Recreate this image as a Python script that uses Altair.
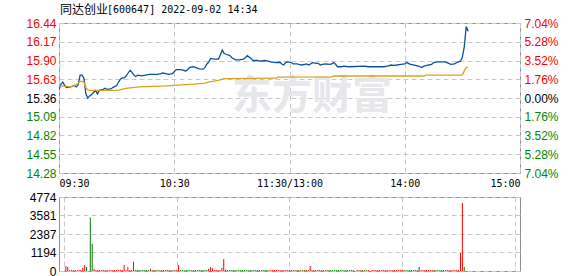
import altair as alt
import pandas as pd

# ---------------- data ----------------
title_name = "同达创业"
title_rest = "[600647] 2022-09-02 14:34"
watermark = "东方财富"

price_ticks = [14.28, 14.55, 14.82, 15.09, 15.36, 15.63, 15.90, 16.17, 16.44]
pct_labels = ["7.04%", "5.28%", "3.52%", "1.76%", "0.00%", "1.76%", "3.52%", "5.28%", "7.04%"]
vol_ticks = [0, 1194, 2387, 3581, 4774]
time_ticks = [0, 60, 120, 180, 240]
time_labels = ["09:30", "10:30", "11:30/13:00", "14:00", "15:00"]

price_min = [0, 1, 2, 3, 4, 6, 8, 9, 10, 11, 12, 13, 14, 15, 16, 17, 18, 19, 20, 21,
             23, 24, 25, 27, 28, 30, 31, 32, 33, 34, 35, 36, 37, 38, 39, 40, 41, 43, 45, 47,
             51, 53, 54, 55, 57, 59, 61, 63, 64, 66, 67, 68, 70, 71, 73, 75, 76, 77, 78, 79,
             81, 83, 84, 85, 86, 87, 89, 90, 92, 94, 96, 97, 98, 100, 101, 103, 105, 107, 109, 110,
             113, 115, 116, 117, 118, 119, 121, 122, 124, 126, 128, 129, 130, 132, 134, 135, 136, 137, 139, 141,
             142, 143, 144, 145, 147, 148, 151, 159, 161, 165, 169, 171, 173, 174, 176, 178, 180, 181, 183, 185,
             187, 188, 189, 190, 192, 194, 195, 197, 201, 202, 204, 206, 207, 209, 210, 211, 212, 213]
price_val = [15.48, 15.56, 15.59, 15.54, 15.51, 15.52, 15.54, 15.52, 15.55, 15.69, 15.69, 15.64, 15.42, 15.36, 15.39, 15.41, 15.44, 15.47, 15.42, 15.47,
             15.485, 15.50, 15.485, 15.49, 15.51, 15.54, 15.59, 15.63, 15.65, 15.65, 15.68, 15.72, 15.76, 15.73, 15.69, 15.67, 15.69, 15.68, 15.69, 15.70,
             15.70, 15.71, 15.72, 15.715, 15.70, 15.71, 15.77, 15.77, 15.765, 15.75, 15.77, 15.80, 15.81, 15.80, 15.78, 15.775, 15.80, 15.85, 15.88, 15.93,
             15.92, 15.92, 15.98, 16.05, 16.00, 15.99, 15.97, 15.94, 15.91, 15.91, 15.92, 15.94, 15.97, 15.93, 15.90, 15.90, 15.89, 15.90, 15.89, 15.88,
             15.87, 15.875, 15.85, 15.835, 15.87, 15.88, 15.87, 15.85, 15.85, 15.835, 15.845, 15.85, 15.835, 15.87, 15.86, 15.86, 15.835, 15.845, 15.85, 15.845,
             15.85, 15.87, 15.845, 15.81, 15.81, 15.82, 15.81, 15.82, 15.81, 15.81, 15.81, 15.82, 15.835, 15.83, 15.835, 15.845, 15.85, 15.87, 15.845, 15.835,
             15.82, 15.81, 15.80, 15.82, 15.835, 15.845, 15.87, 15.88, 15.88, 15.87, 15.845, 15.85, 15.87, 15.89, 15.95, 16.10, 16.39, 16.32]

avg_min = [0, 1, 3, 6, 8, 10, 11, 12, 13, 14, 15, 16, 31, 32, 35, 37, 42, 56, 64, 70,
           76, 79, 83, 86, 113, 114, 142, 143, 190, 191, 210, 211, 212, 213]
avg_val = [15.53, 15.54, 15.53, 15.52, 15.54, 15.57, 15.60, 15.60, 15.59, 15.51, 15.475, 15.47, 15.47, 15.48, 15.50, 15.505, 15.52, 15.535, 15.55, 15.56,
           15.575, 15.595, 15.615, 15.64, 15.645, 15.66, 15.665, 15.677, 15.677, 15.69, 15.69, 15.75, 15.80, 15.80]

vol_val = [0, 320, 258, 65, 65, 65, 65, 65, 65, 65,
           213, 387, 258, 0, 3450, 1763, 150, 65, 65, 65,
           65, 65, 65, 65, 65, 65, 65, 65, 65, 65,
           65, 65, 387, 65, 258, 65, 65, 602, 65, 65,
           65, 65, 65, 65, 65, 65, 150, 65, 65, 65,
           65, 65, 65, 65, 65, 65, 65, 65, 65, 65,
           65, 387, 65, 65, 65, 65, 65, 65, 65, 65,
           65, 65, 65, 65, 65, 65, 65, 150, 258, 170,
           65, 65, 65, 65, 213, 774, 100, 65, 65, 65,
           65, 65, 65, 65, 65, 65, 65, 65, 65, 65,
           65, 65, 65, 65, 65, 65, 65, 65, 65, 65,
           65, 65, 65, 65, 65, 65, 65, 65, 65, 65,
           65, 65, 65, 65, 65, 65, 65, 65, 65, 65,
           65, 322, 65, 65, 65, 65, 65, 65, 65, 65,
           65, 65, 65, 65, 65, 65, 65, 65, 65, 65,
           65, 65, 65, 65, 65, 0, 65, 65, 65, 65,
           65, 65, 65, 0, 65, 65, 65, 65, 65, 65,
           65, 65, 65, 65, 65, 65, 65, 65, 65, 65,
           65, 65, 65, 65, 65, 65, 65, 65, 65, 258,
           65, 65, 65, 65, 65, 65, 65, 65, 65, 65,
           65, 65, 65, 65, 65, 65, 65, 65, 65, 65,
           65, 1161, 4387, 258]
vol_dir = ("rrrrrrrrrr" "rrggggrrrr" "rrrrrrrrrr" "rrrrrrrrgg" "ggggggrgrg"
           "grgrggrgrg" "rrgggggggg" "gggggggrrr" "rrrrrrgggg" "gggggggggg"
           "gggggggggg" "rrrrrrrrrr" "rgrgrgrgrg" "rrrgrrgrgr" "rggggggggg"
           "gggrggrgrg" "rgrrrrrrrr" "rrrrrrrrrr" "rggggggggg" "rrrrrrrggg"
           "gggrrrrrrr" "rrrg")

# ---------------- frames ----------------
price_df = pd.DataFrame({"minute": price_min, "price": price_val})
avg_df = pd.DataFrame({"minute": avg_min, "avg": avg_val})
vol_df = pd.DataFrame({"minute": list(range(len(vol_val))), "vol": vol_val, "dir": list(vol_dir)})

NUM_FONT = "Liberation Sans"
MONO_FONT = "DejaVu Sans Mono"
RED, GREEN, BLACK = "#ff0000", "#008800", "#000000"
GRID = "#c8c8c8"


def ternary(values, labels):
    expr = "''"
    for v, l in reversed(list(zip(values, labels))):
        expr = f"abs(datum.value - {v}) < 0.001 ? '{l}' : {expr}"
    return expr


label_color = {
    "condition": [
        {"test": "datum.value > 15.37", "value": RED},
        {"test": "datum.value < 15.35", "value": GREEN},
    ],
    "value": BLACK,
}

x_price = alt.X(
    "minute:Q",
    scale=alt.Scale(domain=[0, 240], nice=False, zero=False),
    axis=alt.Axis(values=time_ticks, labelExpr=ternary(time_ticks, time_labels), labelFlush=True,
                  labelOverlap=False, grid=True, gridDash=[5, 3], gridColor=GRID, ticks=False,
                  domain=False, labelPadding=5, labelFont=MONO_FONT, labelFontSize=10,
                  labelColor=BLACK, title=None),
)
x_vol = alt.X(
    "minute:Q",
    scale=alt.Scale(domain=[0, 240], nice=False, zero=False),
    axis=alt.Axis(values=time_ticks, labels=False, grid=True, gridDash=[5, 3], gridColor=GRID,
                  ticks=False, domain=False, title=None),
)

y_scale = alt.Scale(domain=[14.28, 16.44], nice=False, zero=False)

price_line = alt.Chart(price_df).mark_line(color="#0b50a0", strokeWidth=1.3, clip=True).encode(
    x=x_price,
    y=alt.Y("price:Q", scale=y_scale,
            axis=alt.Axis(values=price_ticks, format=".2f", grid=True, gridDash=[5, 3], gridColor=GRID,
                          ticks=False, domain=False, labelPadding=3, labelFont=NUM_FONT, labelFontSize=12,
                          labelColor=label_color, labelOverlap=False, labelFlush=False,
                          minExtent=58, maxExtent=58, title=None)),
)

avg_line = alt.Chart(avg_df).mark_line(color="#dca11c", strokeWidth=1.3, clip=True).encode(
    x=x_price,
    y=alt.Y("avg:Q", scale=y_scale,
            axis=alt.Axis(orient="right", values=price_ticks, labelExpr=ternary(price_ticks, pct_labels),
                          grid=False, ticks=False, domain=False, labelPadding=4, labelFont=NUM_FONT,
                          labelFontSize=12, labelColor=label_color, labelOverlap=False, labelFlush=False,
                          title=None)),
)

mark_df = pd.DataFrame({"t": [watermark]})
wm = alt.Chart(mark_df).mark_text(font="Noto Sans CJK SC", fontSize=40, fontWeight="bold",
                                  color="#e6e6eb", align="center", baseline="middle").encode(
    x=alt.value(253), y=alt.value(74), text="t:N")

t1_df = pd.DataFrame({"t": [title_name]})
t2_df = pd.DataFrame({"t": [title_rest]})
title1 = alt.Chart(t1_df).mark_text(font="Noto Sans CJK SC", fontSize=12, align="left",
                                    baseline="middle", color=BLACK).encode(
    x=alt.value(1), y=alt.value(-13), text="t:N")
title2 = alt.Chart(t2_df).mark_text(font=MONO_FONT, fontSize=10, align="left",
                                    baseline="middle", color=BLACK).encode(
    x=alt.value(48), y=alt.value(-13), text="t:N")

price_panel = alt.layer(wm, price_line, avg_line, title1, title2).resolve_scale(y="independent").properties(
    width=461, height=150)

vol_panel = alt.Chart(vol_df).mark_bar(width=1).encode(
    x=x_vol,
    y=alt.Y("vol:Q", scale=alt.Scale(domain=[0, 4774], nice=False),
            axis=alt.Axis(values=vol_ticks, format="d", grid=True, gridDash=[5, 3], gridColor=GRID,
                          ticks=False, domain=False, labelPadding=3, labelFont=NUM_FONT,
                          labelFontSize=12, labelColor=BLACK, labelOverlap=False, labelFlush=False,
                          minExtent=58, maxExtent=58, title=None)),
    color=alt.Color("dir:N", scale=alt.Scale(domain=["r", "g"], range=[RED, "#007a00"]), legend=None),
).properties(width=461, height=74)

chart = alt.vconcat(price_panel, vol_panel, spacing=24, bounds="flush").properties(
    padding={"left": 0, "top": 3, "right": 5, "bottom": 3},
    background="white",
).configure_view(stroke="#8f8f8f", strokeWidth=1)

chart.save("out.html", embed_options={"renderer": "svg", "actions": False})
